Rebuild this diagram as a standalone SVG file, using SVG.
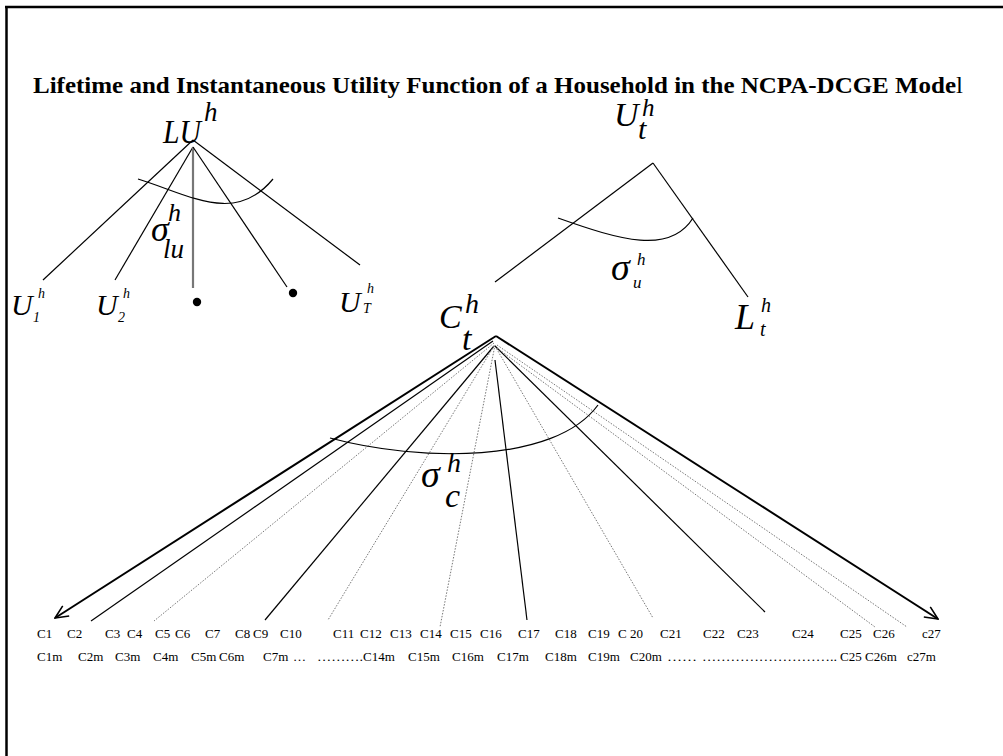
<svg xmlns="http://www.w3.org/2000/svg" width="1003" height="756" viewBox="0 0 1003 756">
<style>
.ln{stroke:#000;stroke-width:1.2;fill:none}
.tk{stroke:#000;stroke-width:2;fill:none}
.dt{stroke:#777;stroke-width:1;stroke-dasharray:1.5 1.5;fill:none}
.gv{stroke:#777;stroke-width:2.2;fill:none}
.m{font-family:'Liberation Serif','Times New Roman',serif;font-style:italic;fill:#000}
.lb{font-family:'Liberation Serif','Times New Roman',serif;font-size:13px;fill:#000}
</style>
<defs>
<marker id="arr" viewBox="0 0 16 14" refX="15" refY="7" markerWidth="16" markerHeight="14" orient="auto" markerUnits="userSpaceOnUse">
<path d="M2,1 L15,7 L2,13" fill="none" stroke="#000" stroke-width="1.6"/>
</marker>
</defs>
<rect width="1003" height="756" fill="#fff"/>
<g id="frame">
<line x1="5" y1="7" x2="1003" y2="7" stroke="#000" stroke-width="2.5"/>
<line x1="6.5" y1="6" x2="6.5" y2="756" stroke="#000" stroke-width="2.5"/>
</g>
<g id="title">
<text x="33" y="93" font-family="'Liberation Serif','Times New Roman',serif" font-weight="bold" font-size="24" textLength="930" lengthAdjust="spacingAndGlyphs">Lifetime and Instantaneous Utility Function of a Household in the NCPA-DCGE Mode<tspan font-weight="normal">l</tspan></text>
</g>
<g id="connectors">
<path class="ln" d="M193,140 L43,280"/>
<path class="ln" d="M193,147 L115,280"/>
<path class="gv" d="M193,147 L193,288"/>
<path class="ln" d="M193,147 L287,287"/>
<path class="ln" d="M193,140 L360,265"/>
<path class="ln" d="M138,179 C190,195 235,225 273,179"/>
<path class="ln" d="M653,163 L495,282"/>
<path class="ln" d="M653,163 L748,297"/>
<path class="ln" d="M558,218 C620,240 670,255 693,218"/>
<path class="tk" d="M496,336 L55,618" marker-end="url(#arr)"/>
<path class="ln" d="M493,341 L91,621"/>
<path class="dt" d="M494,343 L154,621"/>
<path class="ln" d="M494,346 L265,620"/>
<path class="dt" d="M494,346 L328,620"/>
<path class="dt" d="M495,345 L440,627"/>
<path class="ln" d="M495,360 L527,620"/>
<path class="dt" d="M495,346 L653,618"/>
<path class="ln" d="M495,346 L765,612"/>
<path class="dt" d="M497,348 L875,627"/>
<path class="dt" d="M497,345 L907,627"/>
<path class="tk" d="M496,336 L938,619" marker-end="url(#arr)"/>
<path class="ln" d="M330,438 C420,462 555,464 598,405"/>
</g>
<g id="LU">
<text class="m" x="163" y="143" font-size="33" textLength="38" lengthAdjust="spacingAndGlyphs">LU</text>
<text class="m" x="204" y="121" font-size="27">h</text>
</g>
<g id="sigma_lu">
<text class="m" x="151" y="241" font-size="36">σ</text>
<text class="m" x="168" y="221" font-size="26">h</text>
<text class="m" x="163" y="258" font-size="27">lu</text>
</g>
<g id="U1">
<text class="m" x="11" y="315" font-size="30">U</text>
<text class="m" x="38" y="298" font-size="14">h</text>
<text class="m" x="33" y="322" font-size="14" font-style="normal">1</text>
</g>
<g id="U2">
<text class="m" x="96" y="315" font-size="30">U</text>
<text class="m" x="123" y="298" font-size="14">h</text>
<text class="m" x="118" y="322" font-size="14" font-style="normal">2</text>
</g>
<g id="dots">
<circle cx="197" cy="302" r="4.2" fill="#000"/>
<circle cx="293" cy="293" r="4.2" fill="#000"/>
</g>
<g id="UT">
<text class="m" x="339" y="312" font-size="30">U</text>
<text class="m" x="367" y="293" font-size="14">h</text>
<text class="m" x="363" y="313" font-size="14">T</text>
</g>
<g id="Ut">
<text class="m" x="614" y="126" font-size="34">U</text>
<text class="m" x="642" y="116" font-size="25">h</text>
<text class="m" x="638" y="139" font-size="30">t</text>
</g>
<g id="sigma_u">
<text class="m" x="611" y="280" font-size="38">σ</text>
<text class="m" x="637" y="265" font-size="17">h</text>
<text class="m" x="633" y="288" font-size="17">u</text>
</g>
<g id="Lt">
<text class="m" x="735" y="329" font-size="36">L</text>
<text class="m" x="761" y="312" font-size="20">h</text>
<text class="m" x="760" y="336" font-size="20">t</text>
</g>
<g id="Ct">
<text class="m" x="439" y="328" font-size="34">C</text>
<text class="m" x="465" y="313" font-size="28">h</text>
<text class="m" x="462" y="350" font-size="34">t</text>
</g>
<g id="sigma_c">
<text class="m" x="421" y="487" font-size="38">σ</text>
<text class="m" x="447" y="472" font-size="28">h</text>
<text class="m" x="445" y="507" font-size="34">c</text>
</g>
<g id="row1" class="lb">
<text x="37" y="638">C1</text>
<text x="67" y="638">C2</text>
<text x="105" y="638">C3</text>
<text x="127" y="638">C4</text>
<text x="155" y="638">C5</text>
<text x="175" y="638">C6</text>
<text x="205" y="638">C7</text>
<text x="235" y="638">C8</text>
<text x="253" y="638">C9</text>
<text x="280" y="638">C10</text>
<text x="333" y="638">C11</text>
<text x="360" y="638">C12</text>
<text x="390" y="638">C13</text>
<text x="420" y="638">C14</text>
<text x="450" y="638">C15</text>
<text x="480" y="638">C16</text>
<text x="518" y="638">C17</text>
<text x="555" y="638">C18</text>
<text x="588" y="638">C19</text>
<text x="618" y="638">C 20</text>
<text x="660" y="638">C21</text>
<text x="703" y="638">C22</text>
<text x="737" y="638">C23</text>
<text x="792" y="638">C24</text>
<text x="840" y="638">C25</text>
<text x="873" y="638">C26</text>
<text x="922" y="638">c27</text>
</g>
<g id="row2" class="lb">
<text x="37" y="661">C1m</text>
<text x="78" y="661">C2m</text>
<text x="115" y="661">C3m</text>
<text x="153" y="661">C4m</text>
<text x="191" y="661">C5m</text>
<text x="219" y="661">C6m</text>
<text x="263" y="661">C7m</text>
<text x="293" y="661">…</text>
<text x="317" y="661" textLength="46" lengthAdjust="spacingAndGlyphs">……….</text>
<text x="363" y="661">C14m</text>
<text x="408" y="661">C15m</text>
<text x="452" y="661">C16m</text>
<text x="497" y="661">C17m</text>
<text x="545" y="661">C18m</text>
<text x="588" y="661">C19m</text>
<text x="630" y="661">C20m</text>
<text x="667" y="661" textLength="30" lengthAdjust="spacingAndGlyphs">……</text>
<text x="702" y="661" textLength="135" lengthAdjust="spacingAndGlyphs">………………………..</text>
<text x="840" y="661">C25</text>
<text x="865" y="661">C26m</text>
<text x="907" y="661">c27m</text>
</g>
</svg>
